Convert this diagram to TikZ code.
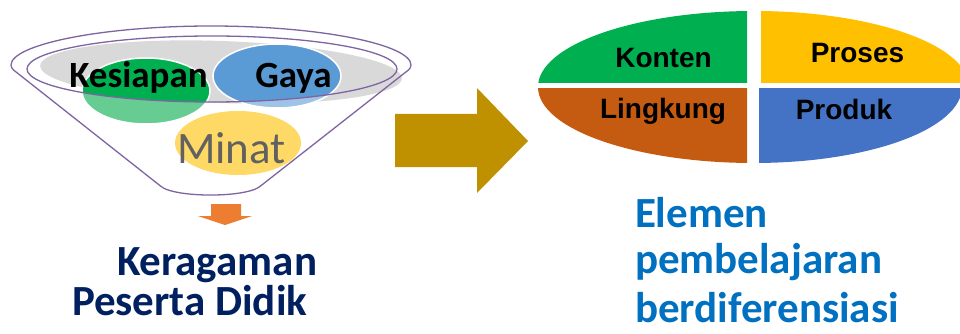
\documentclass[tikz,border=0pt]{standalone}
\usepackage{fontspec}
\setmainfont{Carlito}
\newfontfamily\arialfont{Liberation Sans}
\definecolor{funnelpurple}{HTML}{8064A2}
\definecolor{rimgrey}{HTML}{D9D9D9}
\definecolor{dkgreen}{HTML}{00B050}
\definecolor{ltgreen}{HTML}{66CC91}
\definecolor{dkblue}{HTML}{5B9BD5}
\definecolor{ltblue}{HTML}{9DC3E6}
\definecolor{minatyellow}{HTML}{FFD966}
\definecolor{minatgrey}{HTML}{616161}
\definecolor{qgreen}{HTML}{00B050}
\definecolor{qyellow}{HTML}{FFC000}
\definecolor{qbrown}{HTML}{C55A11}
\definecolor{qblue}{HTML}{4472C4}
\definecolor{goldarrow}{HTML}{BF9000}
\definecolor{orangearrow}{HTML}{ED7D31}
\definecolor{navytext}{HTML}{002060}
\definecolor{bluetext}{HTML}{0070C0}
\begin{document}
\begin{tikzpicture}[x=1pt,y=-1pt,
  txt/.style={inner sep=0pt, outer sep=0pt},
  factor/.style={txt, anchor=base, font=\fontsize{37}{41}\selectfont\bfseries},
  quadtxt/.style={txt, anchor=base, font=\arialfont\fontsize{28}{32}\selectfont\bfseries},
  bigleft/.style={txt, anchor=base west, text=navytext, font=\fontsize{43}{47}\selectfont\bfseries},
  bigright/.style={txt, anchor=base west, text=bluetext, font=\fontsize{43}{47}\selectfont\bfseries},
  purpleline/.style={draw=funnelpurple, line width=1.3pt},
  whiteedge/.style={draw=white, line width=1.5pt}]
\useasboundingbox (0,0) rectangle (960,334);
\fill[white] (0,0) rectangle (960,334);

% grey rim
\fill[rimgrey, rotate around={-2:(221,72)}] (221,72) ellipse [x radius=181pt, y radius=31pt];

% green ellipse (Kesiapan)
\fill[ltgreen] (146,91) ellipse [x radius=64pt, y radius=33pt];
\begin{scope}
  \clip (212,69) ellipse [x radius=185pt, y radius=33pt];
  \fill[dkgreen] (146,91) ellipse [x radius=64pt, y radius=33pt];
\end{scope}
\draw[whiteedge] (146,91) ellipse [x radius=64pt, y radius=33pt];

% blue ellipse (Gaya)
\fill[ltblue] (277,76) ellipse [x radius=64pt, y radius=32pt];
\begin{scope}
  \clip (212,69) ellipse [x radius=185pt, y radius=33pt];
  \fill[dkblue] (277,76) ellipse [x radius=64pt, y radius=32pt];
\end{scope}
\draw[whiteedge] (277,76) ellipse [x radius=64pt, y radius=32pt];

% yellow ellipse (Minat)
\fill[minatyellow] (238,143) ellipse [x radius=63pt, y radius=32pt];

% inner rim
\draw[purpleline] (212,69) ellipse [x radius=185pt, y radius=33pt];

% funnel outline
\draw[purpleline, rounded corners=3pt] (11,68)
  arc[start angle=180, end angle=0, x radius=200pt, y radius=42pt]
  -- (258,188) .. controls (236,197) and (185,197) .. (163,188) -- cycle;

% texts in funnel
\node[factor] (kesiapan) at (138.5,88) {Kesiapan};
\node[factor] (gaya) at (293.5,88) {Gaya};
\node[txt, anchor=base, text=minatgrey, font=\fontsize{45}{50}\selectfont] (minat) at (231.5,163) {Minat};

% orange down arrow
\fill[orangearrow] (211,204) -- (241,204) -- (241,216) -- (252,216) -- (225,225) -- (198,216) -- (211,216) -- cycle;

% gold right arrow
\fill[goldarrow] (395,114) -- (477,114) -- (477,88) -- (528,141) -- (477,193) -- (477,167) -- (395,167) -- cycle;

% quadrant ellipse
\begin{scope}
  \clip (500,0) rectangle (747,83);
  \fill[qgreen] (754,87) ellipse [x radius=216pt, y radius=76pt];
\end{scope}
\begin{scope}
  \clip (761,0) rectangle (980,83);
  \fill[qyellow] (754,87) ellipse [x radius=215pt, y radius=76pt];
\end{scope}
\begin{scope}
  \clip (500,89) rectangle (747,200);
  \fill[qbrown] (754,87) ellipse [x radius=216pt, y radius=76pt];
\end{scope}
\begin{scope}
  \clip (759,89) rectangle (980,200);
  \fill[qblue] (754,87) ellipse [x radius=208pt, y radius=76pt];
\end{scope}

\node[quadtxt] (konten) at (663.5,68) {Konten};
\node[quadtxt] (proses) at (857.5,63) {Proses};
\node[quadtxt] (lingkung) at (663,118) {Lingkung};
\node[quadtxt] (produk) at (844,119) {Produk};

% captions
\node[bigleft] (keragaman) at (117,275) {Keragaman};
\node[bigleft] (peserta) at (72,315) {Peserta Didik};
\node[bigright] (elemen) at (635,227) {Elemen};
\node[bigright] (pembelajaran) at (635,273) {pembelajaran};
\node[bigright] (berdif) at (635,322) {berdiferensiasi};
\end{tikzpicture}
\end{document}
